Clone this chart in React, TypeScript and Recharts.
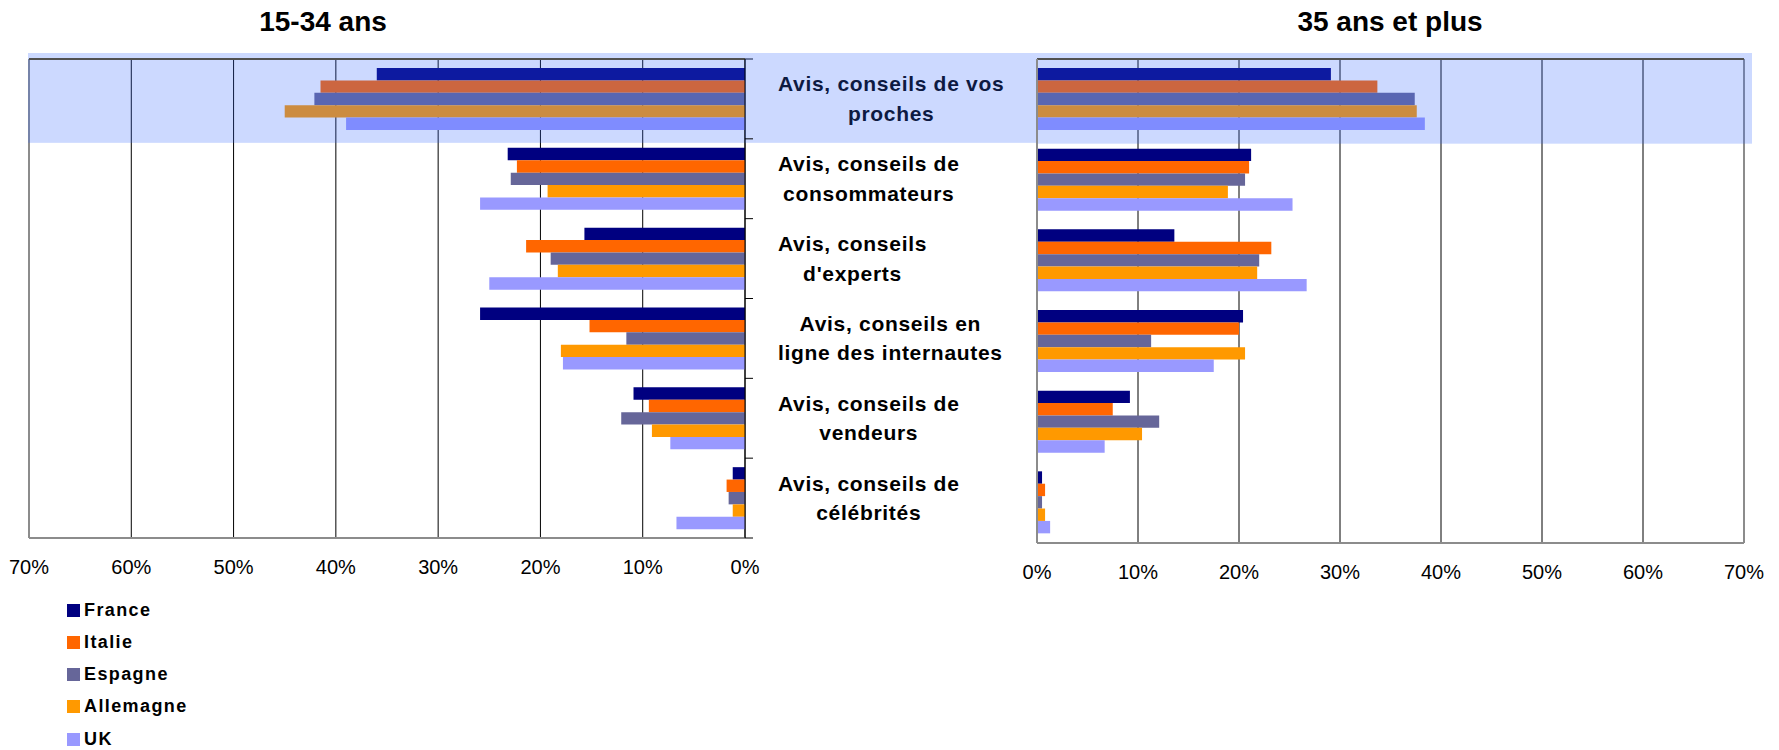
import { BarChart, Bar, XAxis, YAxis, CartesianGrid, ReferenceArea, ReferenceLine } from 'recharts'

const categories = [
  'Avis, conseils de vos\nproches',
  'Avis, conseils de\nconsommateurs',
  'Avis, conseils\nd\'experts',
  'Avis, conseils en\nligne des internautes',
  'Avis, conseils de\nvendeurs',
  'Avis, conseils de\ncélébrités',
]

const countries = ['France', 'Italie', 'Espagne', 'Allemagne', 'UK']
const countryColors = ['#000080', '#FF6600', '#666699', '#FF9900', '#9999FF']

// 15-34 ans
const youngFrance = [36, 23.2, 15.7, 25.9, 10.9, 1.2]
const youngItalie = [41.5, 22.3, 21.4, 15.2, 9.4, 1.8]
const youngEspagne = [42.1, 22.9, 19.0, 11.6, 12.1, 1.6]
const youngAllemagne = [45.0, 19.3, 18.3, 18.0, 9.1, 1.2]
const youngUK = [39.0, 25.9, 25.0, 17.8, 7.3, 6.7]

// 35 ans et plus
const olderFrance = [29.1, 21.2, 13.6, 20.4, 9.2, 0.5]
const olderItalie = [33.7, 21.0, 23.2, 20.0, 7.5, 0.8]
const olderEspagne = [37.4, 20.6, 22.0, 11.3, 12.1, 0.5]
const olderAllemagne = [37.6, 18.9, 21.8, 20.6, 10.4, 0.8]
const olderUK = [38.4, 25.3, 26.7, 17.5, 6.7, 1.3]

const percentTicks = [0, 10, 20, 30, 40, 50, 60, 70]

const youngSeries = [youngFrance, youngItalie, youngEspagne, youngAllemagne, youngUK]
const olderSeries = [olderFrance, olderItalie, olderEspagne, olderAllemagne, olderUK]

const buildRows = (series: number[][]) =>
  categories.map((name, i) => {
    const row: Record<string, string | number> = { name }
    countries.forEach((c, k) => {
      row[c] = series[k][i]
    })
    return row
  })

const youngData = buildRows(youngSeries)
const olderData = buildRows(olderSeries)

const FONT = '"Liberation Sans", Arial, Helvetica, sans-serif'
const BAND_FILL = '#3366FF'
const BAND_OPACITY = 0.25
const LEFT_PLOT_H = 479
const LABEL_AXIS_W = 292

let measureCtx: CanvasRenderingContext2D | null = null
function textWidth(s: string) {
  if (!measureCtx && typeof document !== 'undefined') {
    measureCtx = document.createElement('canvas').getContext('2d')
  }
  if (!measureCtx) return s.length * 11
  measureCtx.font = `bold 21px ${FONT}`
  return measureCtx.measureText(s).width + s.length * 0.7
}

// category labels sit between the two charts, centred as a block
function CenterTick(props: any) {
  const { x, y, payload } = props
  const idx = categories.indexOf(payload.value)
  const lines = String(payload.value).split('\n')
  const blockW = Math.max(...lines.map(textWidth))
  const cx = x + 33 + blockW / 2
  const band = LEFT_PLOT_H / categories.length
  return (
    <g>
      <line x1={x} x2={x + 8} y1={y - band / 2} y2={y - band / 2} stroke="#000" />
      {idx === categories.length - 1 && (
        <line x1={x} x2={x + 8} y1={y + band / 2} y2={y + band / 2} stroke="#000" />
      )}
      <text textAnchor="middle" fontFamily={FONT} fontWeight="bold" fontSize={21} fill="#000" style={{ letterSpacing: '0.7px' }}>
        {lines.map((l, i) => (
          <tspan key={i} x={cx} y={y - 7.5 + i * 29.5}>
            {l}
          </tspan>
        ))}
      </text>
      {idx === 0 && (
        <rect x={x} y={y - band / 2 - 6} width={LABEL_AXIS_W} height={band + 10} fill={BAND_FILL} fillOpacity={BAND_OPACITY} />
      )}
    </g>
  )
}

const tickStyle = { fontFamily: FONT, fontSize: 20, fill: '#000' }

export default function App() {
  return (
    <div style={{ position: 'absolute', left: 0, top: 0, width: 1779, height: 750, background: '#fff', fontFamily: FONT }}>
      <div style={{ position: 'absolute', left: 173, top: 8, width: 300, textAlign: 'center', fontSize: 28, lineHeight: '28px', fontWeight: 'bold' }}>
        15-34 ans
      </div>
      <div style={{ position: 'absolute', left: 1240, top: 8, width: 300, textAlign: 'center', fontSize: 28, lineHeight: '28px', fontWeight: 'bold' }}>
        35 ans et plus
      </div>

      <div style={{ position: 'absolute', left: 0, top: 0 }}>
        <BarChart
          width={1037}
          height={600}
          data={youngData}
          layout="vertical"
          margin={{ top: 53, right: 0, left: 29, bottom: 0 }}
          barSize={12.4}
          barGap={0}
        >
          <CartesianGrid horizontal={false} stroke="#000" />
          <XAxis
            type="number"
            domain={[0, 70]}
            ticks={percentTicks}
            reversed
            interval={0}
            height={62}
            tickLine={false}
            tickSize={6}
            tickMargin={16}
            tickFormatter={(v) => `${v}%`}
            tick={tickStyle}
            axisLine={{ stroke: '#8c8c8c', strokeWidth: 2 }}
          />
          <XAxis
            xAxisId="top"
            orientation="top"
            type="number"
            domain={[0, 70]}
            ticks={percentTicks}
            reversed
            interval={0}
            height={6}
            tick={false}
            tickSize={6}
            tickLine={{ stroke: '#000' }}
            axisLine={{ stroke: '#505050', strokeWidth: 2 }}
          />
          <YAxis
            type="category"
            dataKey="name"
            orientation="right"
            width={LABEL_AXIS_W}
            interval={0}
            tickSize={0}
            tickMargin={0}
            tickLine={false}
            axisLine={{ stroke: '#000' }}
            tick={(p: any) => <CenterTick {...p} />}
          />
          <ReferenceLine x={70} stroke="#8c8c8c" strokeWidth={2} />
          {countries.map((c, k) => (
            <Bar key={c} dataKey={c} fill={countryColors[k]} isAnimationActive={false} />
          ))}
          <ReferenceArea
            y1={categories[0]}
            y2={categories[0]}
            ifOverflow="visible"
            zIndex={450}
            shape={(p: any) => (
              <rect x={p.x - 1} y={p.y - 6} width={p.width + 1} height={p.height + 10} fill={BAND_FILL} fillOpacity={BAND_OPACITY} />
            )}
          />
        </BarChart>
      </div>

      <div style={{ position: 'absolute', left: 1000, top: 0 }}>
        <BarChart
          width={779}
          height={605}
          data={olderData}
          layout="vertical"
          margin={{ top: 53, right: 35, left: 0, bottom: 0 }}
          barSize={12.4}
          barGap={0}
        >
          <CartesianGrid horizontal={false} stroke="#000" />
          <XAxis
            type="number"
            domain={[0, 70]}
            ticks={percentTicks}
            interval={0}
            height={62}
            tickLine={false}
            tickSize={6}
            tickMargin={16}
            tickFormatter={(v) => `${v}%`}
            tick={tickStyle}
            axisLine={{ stroke: '#8c8c8c', strokeWidth: 2 }}
          />
          <XAxis
            xAxisId="top"
            orientation="top"
            type="number"
            domain={[0, 70]}
            ticks={percentTicks}
            interval={0}
            height={6}
            tick={false}
            tickSize={6}
            tickLine={{ stroke: '#000' }}
            axisLine={{ stroke: '#505050', strokeWidth: 2 }}
          />
          <YAxis
            type="category"
            dataKey="name"
            width={37}
            tick={false}
            tickLine={false}
            axisLine={{ stroke: '#8c8c8c', strokeWidth: 2 }}
          />
          <ReferenceLine x={70} stroke="#8c8c8c" strokeWidth={2} />
          {countries.map((c, k) => (
            <Bar key={c} dataKey={c} fill={countryColors[k]} isAnimationActive={false} />
          ))}
          <ReferenceArea
            y1={categories[0]}
            y2={categories[0]}
            ifOverflow="visible"
            zIndex={450}
            shape={(p: any) => (
              <rect x={p.x} y={p.y - 6} width={p.width + 8} height={p.height + 10} fill={BAND_FILL} fillOpacity={BAND_OPACITY} />
            )}
          />
        </BarChart>
      </div>

      {countries.map((c, k) => (
        <div
          key={c}
          style={{ position: 'absolute', left: 67, top: 594 + k * 32.3, height: 32, display: 'flex', alignItems: 'center' }}
        >
          <div style={{ width: 13, height: 13, background: countryColors[k] }} />
          <span style={{ marginLeft: 4, fontSize: 18, fontWeight: 'bold', letterSpacing: 1.4 }}>{c}</span>
        </div>
      ))}
    </div>
  )
}
